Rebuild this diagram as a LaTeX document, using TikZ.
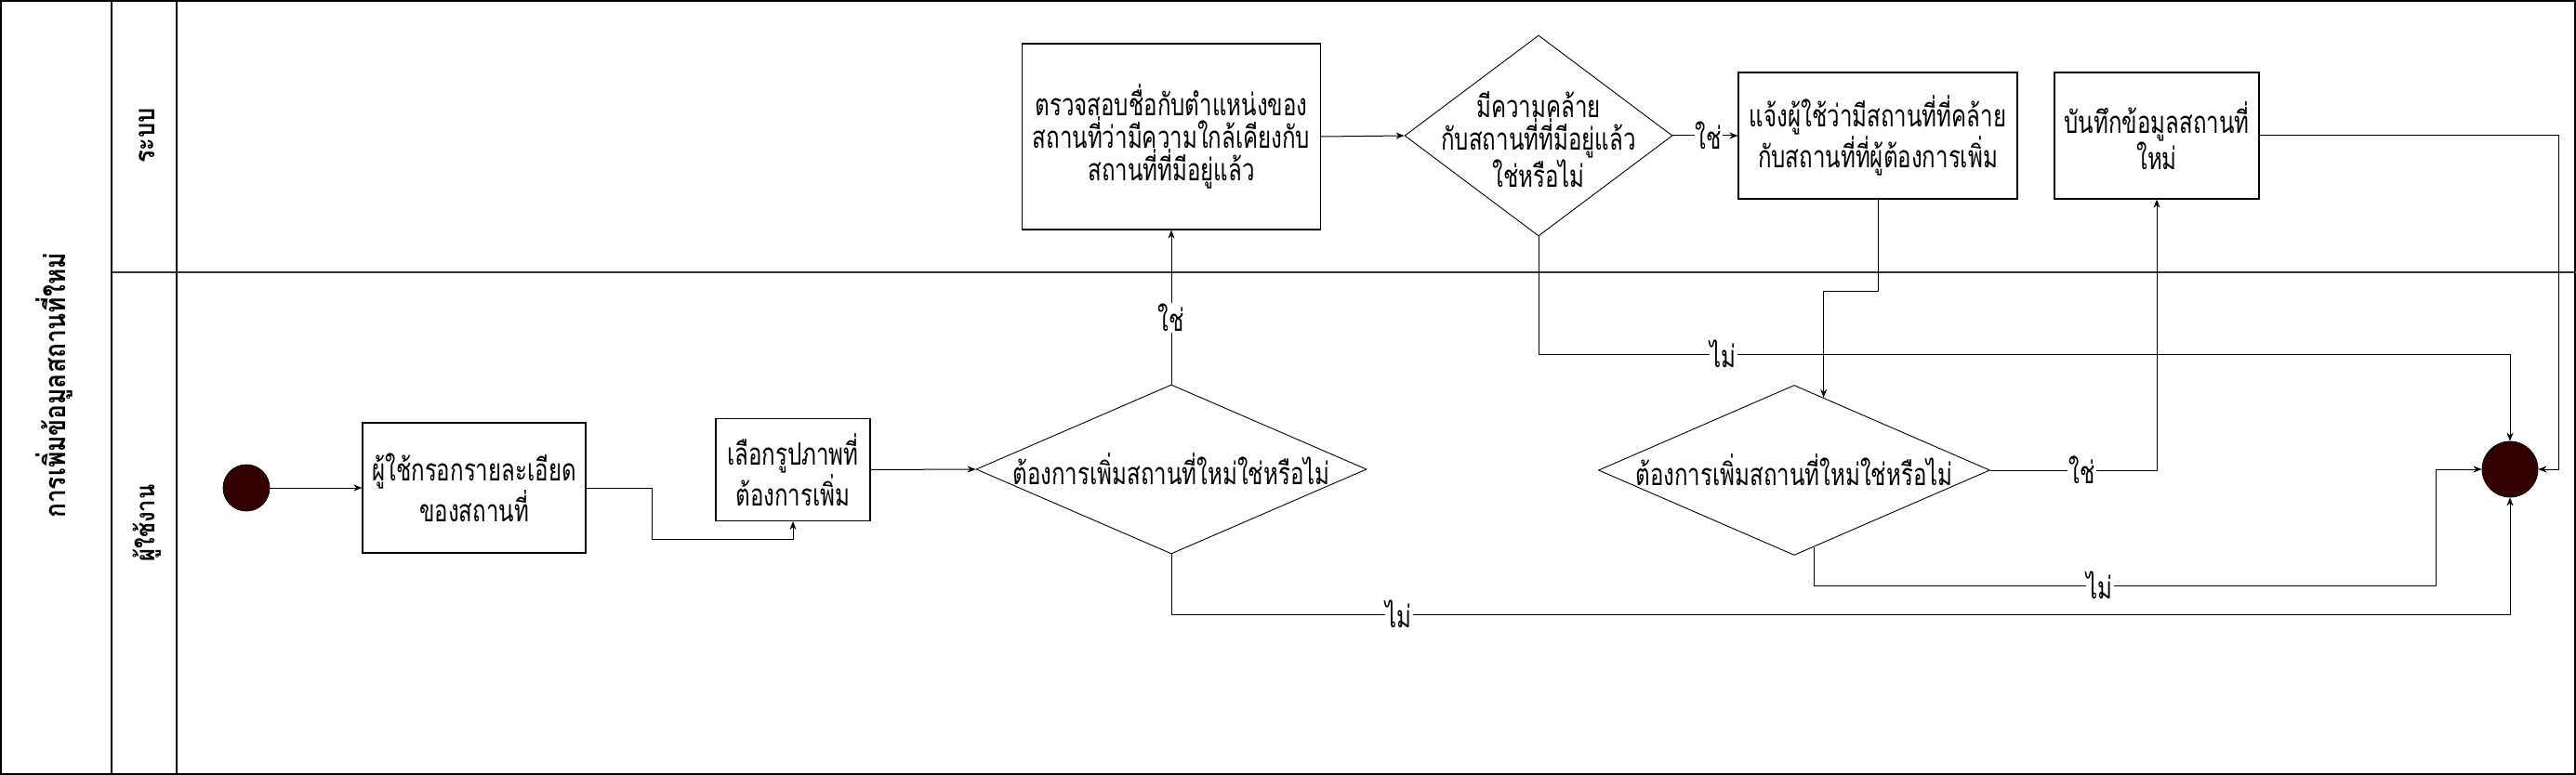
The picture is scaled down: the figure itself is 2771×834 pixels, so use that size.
\documentclass[tikz,border=0pt]{standalone}
\usepackage{fontspec}
\newfontfamily\thaifont[Script=Thai,FakeStretch=0.73]{Loma}
\newfontfamily\thaititle[Script=Thai,FakeStretch=0.85]{Loma}
\usetikzlibrary{shapes.geometric,arrows.meta,calc}
\definecolor{termfill}{HTML}{330000}
\begin{document}
\begin{tikzpicture}[x=1pt,y=-1pt,
  font=\thaifont\fontsize{33}{30}\selectfont,
  lane/.style={draw=black,line width=1.6pt},
  proc/.style={rectangle,draw=black,line width=1.2pt,inner sep=0pt,align=center},
  decide/.style={diamond,draw=black,line width=0.9pt,inner sep=0pt},
  dtext/.style={inner sep=0pt,align=center},
  term/.style={circle,draw=black,line width=0.8pt,fill=termfill,inner sep=0pt},
  conn/.style={draw=black,line width=1pt},
  arr/.style={conn,-{Stealth[length=9pt,width=7pt]}},
  lbl/.style={fill=white,inner sep=1pt}]
\useasboundingbox (0,0) rectangle (2771,834);
% swimlane frame
\draw[lane] (0.8,0.8) rectangle (2770.2,833.2);
\draw[lane] (120,0) -- (120,834);
\draw[lane] (190,0) -- (190,834);
\draw[lane,draw=black!80] (120,293) -- (2771,293);
\node[rotate=90,font=\thaititle\bfseries\fontsize{31}{34}\selectfont] (title) at (58,415) {การเพิ่มข้อมูลสถานที่ใหม่};
\node[rotate=90,font=\thaititle\bfseries\fontsize{30}{30}\selectfont] (lsys) at (158,146) {ระบบ};
\node[rotate=90,font=\thaititle\bfseries\fontsize{28}{30}\selectfont] (lusr) at (158,563) {ผู้ใช้งาน};
% nodes
\node[term,minimum size=50pt] (start) at (265,525) {};
\node[proc,minimum width=240pt,minimum height=140pt] (b1) at (510,525) {ผู้ใช้กรอกรายละเอียด\\ของสถานที่};
\node[proc,minimum width=166pt,minimum height=110pt] (b2) at (853,505.5) {เลือกรูปภาพที่\\ต้องการเพิ่ม};
\node[decide,minimum width=420pt,minimum height=182pt] (d1) at (1260,505) {};
\node[dtext] (d1t) at (d1) {ต้องการเพิ่มสถานที่ใหม่ใช่หรือไม่};
\node[proc,minimum width=321pt,minimum height=200pt] (b3) at (1260,147) {ตรวจสอบชื่อกับตำแหน่งของ\\สถานที่ว่ามีความใกล้เคียงกับ\\สถานที่ที่มีอยู่แล้ว};
\node[decide,minimum width=288pt,minimum height=216pt] (d2) at (1655,146) {};
\node[dtext] (d2t) at (1655,150) {มีความคล้าย\\กับสถานที่ที่มีอยู่แล้ว\\ใช่หรือไม่};
\node[proc,minimum width=300pt,minimum height=136pt] (b4) at (2020,146) {แจ้งผู้ใช้ว่ามีสถานที่ที่คล้าย\\กับสถานที่ที่ผู้ต้องการเพิ่ม};
\node[proc,minimum width=220pt,minimum height=136pt] (b5) at (2320,146) {บันทึกข้อมูลสถานที่\\ใหม่};
\node[decide,minimum width=421pt,minimum height=183pt] (d3) at (1930,506) {};
\node[dtext] (d3t) at (d3) {ต้องการเพิ่มสถานที่ใหม่ใช่หรือไม่};
\node[term,minimum size=60pt] (end) at (2700,505) {};
\coordinate (d3in) at ($(d3.north)!0.15!(d3.east)$);
\coordinate (d3out) at ($(d3.south)!0.1!(d3.east)$);
% connectors
\draw[arr] (start) -- (b1.west);
\draw[arr] (b1.east) -- (701,525) -- (701,580) -- (b2.south |- 0,580) -- (b2.south);
\draw[arr] (b2.east) -- (d1.west);
\draw[arr] (d1.north) -- node[lbl,pos=0.43] (y1) {ใช่} (b3.south);
\draw[arr] (d1.south) -- (1260,661) -- node[lbl,pos=0.17] (n1) {ไม่} (2700,661) -- (end.south);
\draw[arr] (b3.east) -- (d2.west);
\draw[arr] (d2.east) -- node[lbl,pos=0.55] (y2) {ใช่} (b4.west);
\draw[arr] (d2.south) -- (1655,381) -- node[lbl,pos=0.19] (n2) {ไม่} (2700,381) -- (end.north);
\draw[arr] (b4.south) -- (2020,314) -- (d3in |- 0,314) -- (d3in);
\draw[arr] (d3.east) -- node[lbl,pos=0.55] (y3) {ใช่} (b5.south |- d3.east) -- (b5.south);
\draw[arr] (d3out) -- (d3out |- 0,630) -- node[lbl,pos=0.46] (n3) {ไม่} (2620,630) -- (2620,505) -- (end.west);
\draw[arr] (b5.east) -- (2752,146) -- (2752,505) -- (end.east);
\end{tikzpicture}
\end{document}
